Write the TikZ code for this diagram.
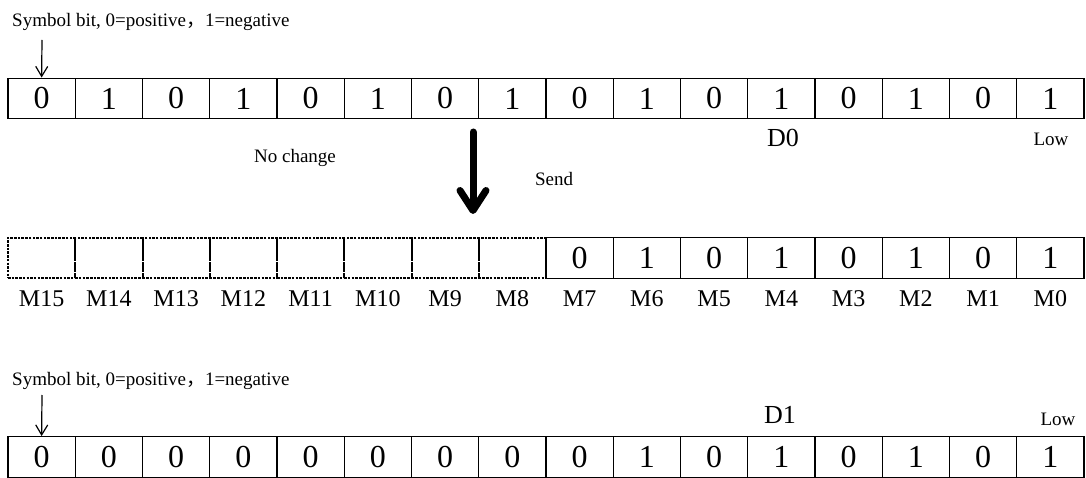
\documentclass[tikz,border=0pt]{standalone}
\usepackage{fontspec}
\setmainfont{Liberation Serif}
\newfontfamily\cjk{Noto Sans CJK SC}
\usetikzlibrary{arrows.meta,positioning}
\tikzset{
  bitcell/.style={draw=black,line width=1.4pt,
                  minimum width=67.25pt,minimum height=40.5pt,
                  inner sep=0pt,font=\fontsize{32}{32}\selectfont},
  emptycell/.style={bitcell,line width=2pt,dash pattern=on 2.5pt off 1.2pt},
  regname/.style={inner sep=0pt,font=\fontsize{26}{26}\selectfont},
  bitname/.style={inner sep=0pt,anchor=base,font=\fontsize{24}{24}\selectfont},
  note/.style={inner sep=0pt,font=\fontsize{19}{19}\selectfont},
  signarr/.style={-{Straight Barb[length=10pt,width=12pt]},line width=1.2pt},
  sendarr/.style={-{Straight Barb[round,length=20pt,width=26pt]},line width=7pt,line cap=round}
}

\begin{document}
\begin{tikzpicture}[x=1pt,y=-1pt]
  \useasboundingbox (0,0) rectangle (1086,478);
  \node[note,anchor=base west] (signtop) at (12,27) {Symbol bit, 0=positive{\cjk ，}1=negative};
  \foreach \b [count=\i] in {0,1,0,1,0,1,0,1,0,1,0,1,0,1,0,1}
    \node[bitcell] (d0b\i) at ({8+(\i-0.5)*67.25},98.5) {\b};
  \coordinate (signtopend) at (42,40);
  \draw[signarr] (signtopend) -- (d0b1.north);
  \node[regname] (d0name) at (783,138) {D0};
  \node[note] (lowtop) at (1051,139) {Low};
  \node[note] (nochange) at (295,158) {No change};
  \node[note] (send) at (554,179) {Send};
  \coordinate (sendstart) at (473,132);
  \coordinate (sendend) at (473,214);
  \draw[sendarr] (sendstart) -- (sendend);

  \foreach \i in {1,...,8}
    \node[emptycell] (m\i) at ({8+(\i-0.5)*67.25},258) {};
  \foreach \b [count=\i from 9] in {0,1,0,1,0,1,0,1}
    \node[bitcell] (m\i) at ({8+(\i-0.5)*67.25},258) {\b};
  \foreach \i [evaluate=\i as \k using int(16-\i)] in {1,...,16}
    \node[bitname] (mname\i) at ({8+(\i-0.5)*67.25},306) {M\k};

  \node[note,anchor=base west] (signbot) at (12,385) {Symbol bit, 0=positive{\cjk ，}1=negative};
  \node[regname] (d1name) at (780,415) {D1};
  \node[note] (lowbot) at (1058,419) {Low};
  \foreach \b [count=\i] in {0,0,0,0,0,0,0,0,0,1,0,1,0,1,0,1}
    \node[bitcell] (d1b\i) at ({8+(\i-0.5)*67.25},457) {\b};
  \coordinate (signbotend) at (42,395);
  \draw[signarr] (signbotend) -- (d1b1.north);
\end{tikzpicture}
\end{document}
